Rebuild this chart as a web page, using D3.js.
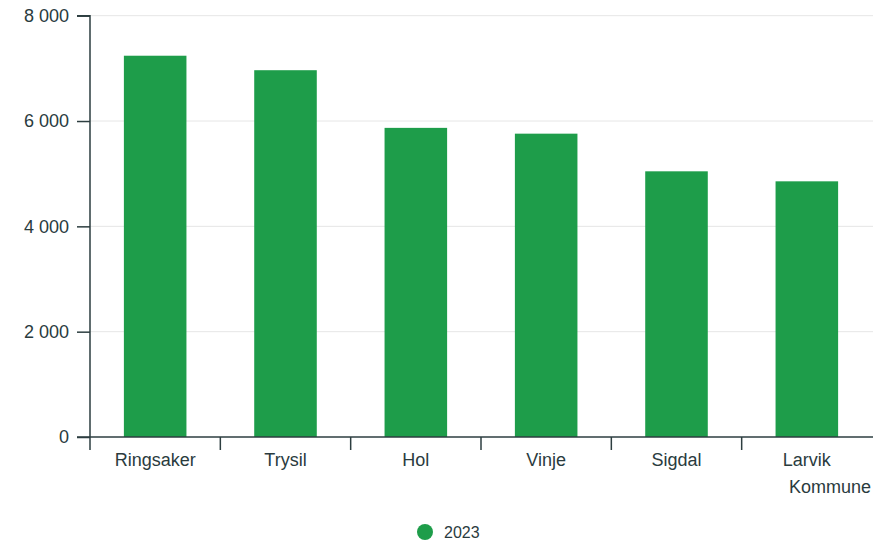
<!DOCTYPE html>
<html><head><meta charset="utf-8">
<script src="https://cdn.jsdelivr.net/npm/d3@7"></script>
<style>body{margin:0;background:#fff}text{font-family:"Liberation Sans",Arial,sans-serif}</style>
</head><body><svg id="c" width="873" height="542"></svg>
<script>
const categories = ["Ringsaker","Trysil","Hol","Vinje","Sigdal","Larvik Kommune"];
const values2023 = [7240,6965,5870,5760,5045,4855];
const yTicks = [0,2000,4000,6000,8000];
const seriesName = "2023";

const svg = d3.select("#c");
const m = {l:90, r:1, t:15.7, b:105};
const W = 873, H = 542;
const x = d3.scaleBand().domain(categories).range([m.l, W - m.r]).paddingInner(0.52).paddingOuter(0.26);
const xb = d3.scaleBand().domain(categories).range([m.l, W - m.r]);
const y = d3.scaleLinear().domain([0,8000]).range([437, m.t]);
const txt = "#2a3b3e", axc = "#2d3e40", green = "#1e9d4a";

// grid
svg.append("g").selectAll("line").data(yTicks.filter(d=>d>0)).join("line")
  .attr("x1", m.l).attr("x2", W).attr("y1", d=>y(d)).attr("y2", d=>y(d))
  .attr("stroke", "#e6e6e6").attr("stroke-width", 1);

// bars
svg.append("g").selectAll("rect").data(categories).join("rect")
  .attr("x", d=>x(d)).attr("width", x.bandwidth())
  .attr("y", (d,i)=>y(values2023[i])).attr("height", (d,i)=>y(0)-y(values2023[i]))
  .attr("fill", green);

// y axis
const ya = svg.append("g").attr("transform", `translate(${m.l},0)`)
  .call(d3.axisLeft(y).tickValues(yTicks).tickSize(13).tickPadding(8).tickFormat(d => d===0?"0":d3.format(",")(d).replace(/,/g," ")));
ya.select(".domain").attr("stroke", axc).attr("stroke-width", 1.5).attr("d", `M-13,${y(8000)}H0V${y(0)}`);
ya.selectAll(".tick line").attr("stroke", axc).attr("stroke-width", 1.5);
ya.selectAll(".tick text").attr("fill", txt).attr("font-size", 18).attr("font-family", "Liberation Sans, Arial, sans-serif");

// x axis
const xa = svg.append("g").attr("transform", `translate(0,${y(0)})`);
xa.append("line").attr("x1", m.l - 13).attr("x2", W).attr("y1", 0).attr("y2", 0).attr("stroke", axc).attr("stroke-width", 1.5);
const bounds = categories.map(c => xb(c));
xa.selectAll(".xt").data(bounds).join("line").attr("class","xt")
  .attr("x1", d=>d).attr("x2", d=>d).attr("y1", 0).attr("y2", 13).attr("stroke", axc).attr("stroke-width", 1.5);
categories.forEach((c, i) => {
  const cx = x(c) + x.bandwidth()/2;
  const parts = c.split(" ");
  const t = xa.append("text").attr("fill", txt).attr("font-size", 18).attr("text-anchor", "middle");
  t.append("tspan").attr("x", cx).attr("y", 29).text(parts[0]);
  if (parts[1]) t.append("tspan").attr("x", 830).attr("y", 56).text(parts[1]);
});

// legend
const lg = svg.append("g");
lg.append("circle").attr("cx", 425).attr("cy", 532).attr("r", 8).attr("fill", green);
lg.append("text").attr("x", 444).attr("y", 538).attr("fill", txt).attr("font-size", 16).text(seriesName);
</script></body></html>
